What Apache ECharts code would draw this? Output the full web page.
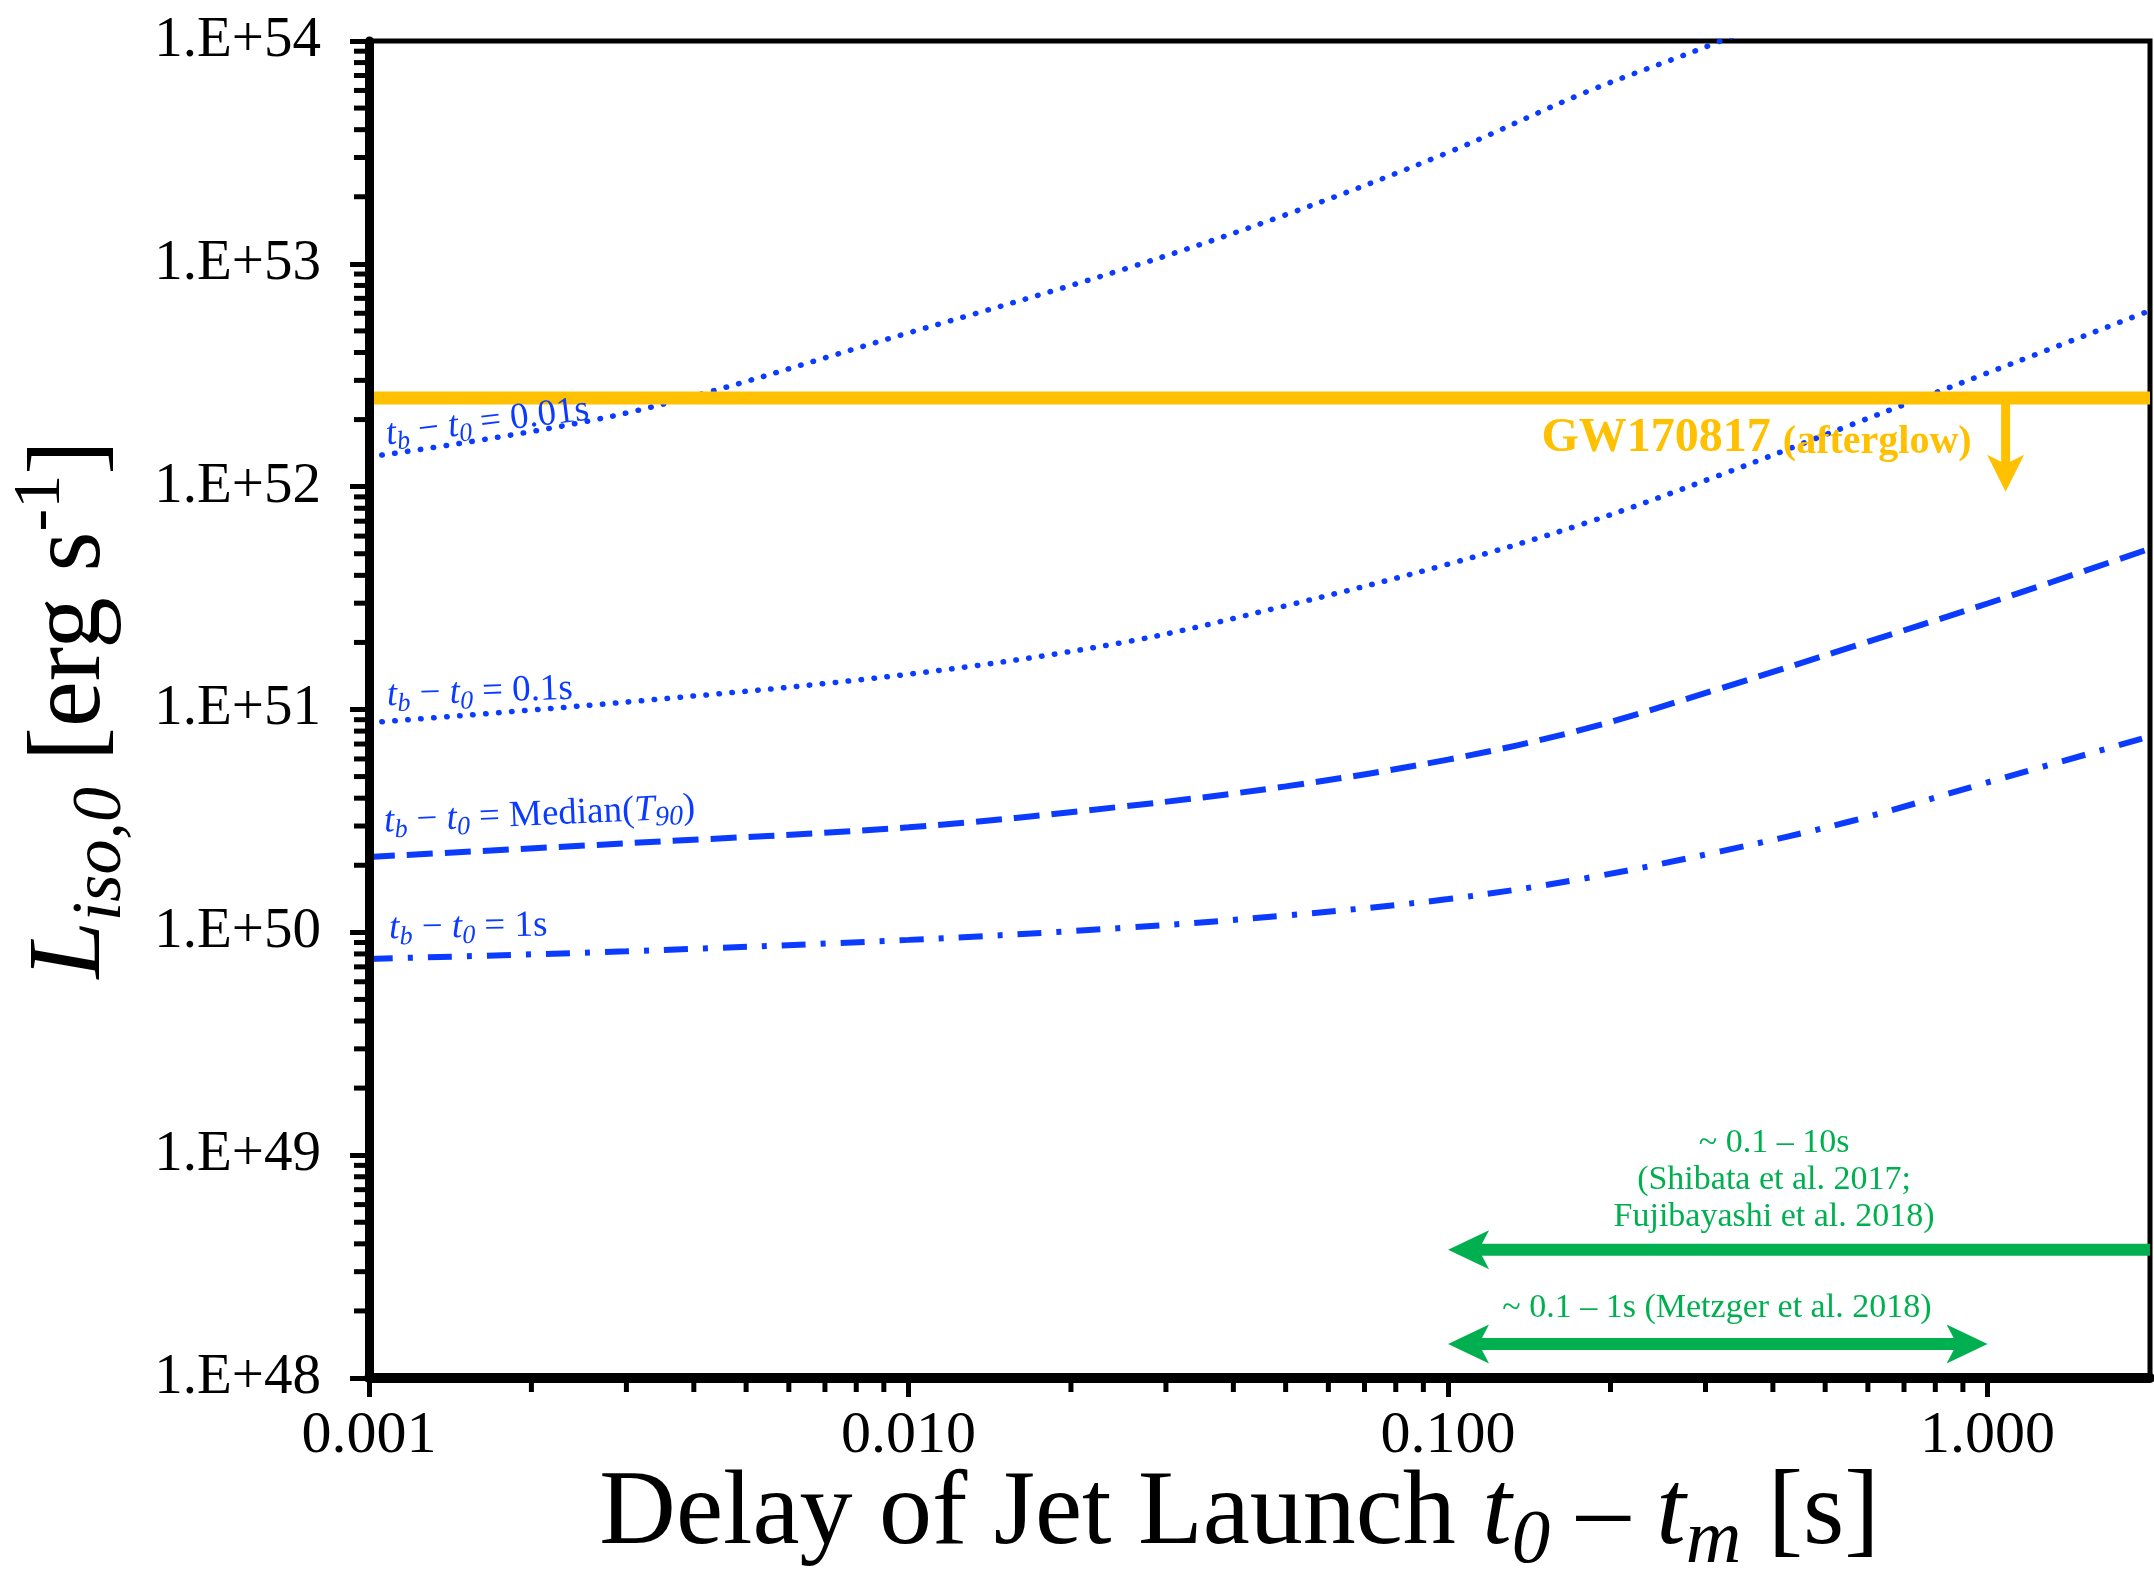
<!DOCTYPE html>
<html>
<head>
<meta charset="utf-8">
<title>Jet launch delay vs. required luminosity</title>
<script src="https://cdn.jsdelivr.net/npm/echarts@6/dist/echarts.min.js"></script>
<style>
  html, body { margin: 0; padding: 0; background: #ffffff; }
  #chart { width: 2154px; height: 1576px; }
</style>
</head>
<body>
<div id="chart"></div>
<script>
// ---- data ----------------------------------------------------------------
// delay of jet launch t0 - tm [s]
const delays = [0.001, 0.003, 0.01, 0.025, 0.05, 0.1, 0.18, 0.32, 0.56, 1.0, 2.0];
// required L_iso,0 [erg/s] for each breakout time tb - t0
const lumTb001s   = [1.36e52, 2.14e52, 4.9e52, 9.44e52, 1.66e53, 3.16e53, 5.89e53, 1.0e54, 1.78e54];
const lumTb01s    = [8.73e50, 1.08e51, 1.44e51, 2.0e51, 2.92e51, 4.49e51, 6.87e51, 1.13e52, 1.9e52, 3.24e52, 6.17e52];
const lumTbMedian = [2.18e50, 2.51e50, 2.96e50, 3.67e50, 4.52e50, 5.96e50, 8.2e50, 1.245e51, 1.91e51, 2.99e51, 5.27e51];
const lumTb1s     = [7.6e49, 8.22e49, 9.25e49, 1.047e50, 1.19e50, 1.41e50, 1.75e50, 2.31e50, 3.16e50, 4.71e50, 7.57e50];

// GW170817 afterglow upper limit and its pointer (x, from, to)
const gwLimit = 2.5e52;
const gwPointer = [1.08, 2.5e52, 9.5e51];

// expected delay ranges [s] and the levels they are drawn at
const shibataRange = [0.1, 10];
const metzgerRange = [0.1, 1];
const shibataLevel = 3.76e48;
const metzgerLevel = 1.42e48;

// axis ranges
const xRange = [0.001, 2];
const yRange = [1e48, 1e54];

// ---- styling ---------------------------------------------------------------
const FONT = '"Liberation Serif", "Times New Roman", Times, serif';
const BLUE = '#0B3BFF';
const GOLD = '#FFC000';
const GREEN = '#00B050';

const chart = echarts.init(document.getElementById('chart'));

const pairs = (xs, ys) => ys.map((y, i) => [xs[i], y]);

// sub-decade tick positions (2..9 of each decade)
function decadeSubTicks(fromExp, toExp, limit) {
  const out = [];
  for (let e = fromExp; e < toExp; e++) {
    for (let m = 2; m <= 9; m++) {
      const v = m * Math.pow(10, e);
      if (v < limit) out.push(v);
    }
  }
  return out;
}
const xMinorTicks = decadeSubTicks(-3, 1, xRange[1]);
const yMinorTicks = decadeSubTicks(48, 54, yRange[1]);

function minorTickSeries(values, dir, len, width) {
  return {
    type: 'custom', coordinateSystem: 'cartesian2d', silent: true, clip: false, z: 12,
    data: values.map(v => dir === 'y' ? [xRange[0], v] : [v, yRange[0]]),
    renderItem(params, api) {
      const p = api.coord([api.value(0), api.value(1)]);
      const shape = dir === 'y'
        ? { x1: p[0], y1: p[1], x2: p[0] - len, y2: p[1] }
        : { x1: p[0], y1: p[1], x2: p[0], y2: p[1] + len };
      return { type: 'line', shape, style: { stroke: '#000', lineWidth: width } };
    }
  };
}

// arrows: [x1, y1, x2, y2, headAtStart, headAtEnd]
function arrowSeries(segments, color, width, headLen, headWid) {
  return {
    type: 'custom', coordinateSystem: 'cartesian2d', silent: true, clip: true, z: 6,
    encode: { x: [0, 2], y: [1, 3] },
    data: segments,
    renderItem(params, api) {
      const a = api.coord([api.value(0), api.value(1)]);
      const b = api.coord([api.value(2), api.value(3)]);
      const dx = b[0] - a[0], dy = b[1] - a[1];
      const d = Math.hypot(dx, dy) || 1;
      const ux = dx / d, uy = dy / d, nx = -uy, ny = ux;
      const head = (t, s) => {
        const bx = -s * ux, by = -s * uy;
        return {
          type: 'polygon',
          shape: { points: [
            [t[0], t[1]],
            [t[0] + bx * headLen + nx * headWid / 2, t[1] + by * headLen + ny * headWid / 2],
            [t[0] + bx * headLen * 0.75, t[1] + by * headLen * 0.75],
            [t[0] + bx * headLen - nx * headWid / 2, t[1] + by * headLen - ny * headWid / 2]
          ] },
          style: { fill: color }
        };
      };
      const hs = api.value(4), he = api.value(5);
      const s0 = hs ? [a[0] + ux * headLen * 0.7, a[1] + uy * headLen * 0.7] : a;
      const s1 = he ? [b[0] - ux * headLen * 0.7, b[1] - uy * headLen * 0.7] : b;
      const children = [{
        type: 'line',
        shape: { x1: s0[0], y1: s0[1], x2: s1[0], y2: s1[1] },
        style: { stroke: color, lineWidth: width }
      }];
      if (hs) children.push(head(a, -1));
      if (he) children.push(head(b, 1));
      return { type: 'group', children };
    }
  };
}

function curve(name, values, lineStyle) {
  return {
    name, type: 'line', data: pairs(delays, values),
    symbol: 'none', showSymbol: false, smooth: 0.35, clip: true, z: 3,
    lineStyle: Object.assign({ color: BLUE }, lineStyle)
  };
}

const option = {
  backgroundColor: '#ffffff',
  animation: false,
  grid: {
    left: 369, right: 4, top: 41, bottom: 198,
    containLabel: false, outerBoundsMode: 'none',
    show: true, borderColor: '#000', borderWidth: 5, backgroundColor: 'transparent'
  },
  xAxis: {
    type: 'log', logBase: 10, min: xRange[0], max: xRange[1], z: 10,
    name: '{n|Delay of Jet Launch }{i|t}{s|0}{n| – }{i|t}{s|m}{n| [s]}',
    nameLocation: 'middle', nameGap: 72, nameMoveOverlap: false,
    nameTextStyle: {
      fontFamily: FONT, fontSize: 106, color: '#000', padding: [0, 40, 0, 0],
      rich: {
        n: { fontFamily: FONT, fontSize: 106, color: '#000', lineHeight: 130 },
        i: { fontFamily: FONT, fontSize: 106, fontStyle: 'italic', color: '#000', lineHeight: 130 },
        s: { fontFamily: FONT, fontSize: 77, fontStyle: 'italic', color: '#000', verticalAlign: 'bottom', lineHeight: 71 }
      }
    },
    axisLine: { onZero: false, lineStyle: { color: '#000', width: 10 } },
    axisTick: { inside: false, length: 19, lineStyle: { color: '#000', width: 5 } },
    axisLabel: {
      fontFamily: FONT, fontSize: 60, color: '#000', margin: 28,
      showMaxLabel: false,
      formatter: v => Number(v).toFixed(3)
    },
    splitLine: { show: false },
    minorTick: { show: false }
  },
  yAxis: {
    type: 'log', logBase: 10, min: yRange[0], max: yRange[1], z: 10,
    name: '{L|L}{s|iso,0}{n| [erg s}{p|-1}{n|]}',
    nameLocation: 'middle', nameGap: 232, nameMoveOverlap: false,
    nameTextStyle: {
      fontFamily: FONT, fontSize: 103, color: '#000',
      rich: {
        L: { fontFamily: FONT, fontSize: 103, fontStyle: 'italic', color: '#000', lineHeight: 130 },
        s: { fontFamily: FONT, fontSize: 70, fontStyle: 'italic', color: '#000', verticalAlign: 'bottom', lineHeight: 76 },
        n: { fontFamily: FONT, fontSize: 103, color: '#000', lineHeight: 130 },
        p: { fontFamily: FONT, fontSize: 68, color: '#000', verticalAlign: 'top', lineHeight: 105 }
      }
    },
    axisLine: { onZero: false, lineStyle: { color: '#000', width: 9 } },
    axisTick: { inside: false, length: 19, lineStyle: { color: '#000', width: 5 } },
    axisLabel: {
      fontFamily: FONT, fontSize: 57, color: '#000', margin: 48,
      formatter: v => '1.E+' + Math.round(Math.log10(v))
    },
    splitLine: { show: false },
    minorTick: { show: false }
  },
  series: [
    curve('tb-t0 = 0.01s', lumTb001s, { width: 5.5, type: [0.5, 12.5], cap: 'round' }),
    curve('tb-t0 = 0.1s', lumTb01s, { width: 5.5, type: [0.5, 12.5], cap: 'round' }),
    curve('tb-t0 = Median(T90)', lumTbMedian, { width: 6, type: [26, 12], cap: 'butt' }),
    curve('tb-t0 = 1s', lumTb1s, { width: 6, type: [24, 15, 5, 15], cap: 'butt' }),
    {
      name: 'GW170817 (afterglow)', type: 'line', symbol: 'none', z: 4,
      data: [[xRange[0], gwLimit], [xRange[1], gwLimit]],
      lineStyle: { color: GOLD, width: 13 }
    },
    arrowSeries([[gwPointer[0], gwPointer[1], gwPointer[0], gwPointer[2], 0, 1]], GOLD, 9, 37, 37),
    arrowSeries([
      [shibataRange[1], shibataLevel, shibataRange[0], shibataLevel, 0, 1],
      [metzgerRange[0], metzgerLevel, metzgerRange[1], metzgerLevel, 1, 1]
    ], GREEN, 12, 41, 39),
    minorTickSeries(yMinorTicks, 'y', 15, 5),
    minorTickSeries(xMinorTicks, 'x', 14, 5)
  ]
};

chart.setOption(option);

// ---- text annotations, anchored in data coordinates ------------------------
const toPx = p => chart.convertToPixel({ xAxisIndex: 0, yAxisIndex: 0 }, p);

const curveRich = {
  n: { fontFamily: FONT, fontSize: 37, fill: BLUE, color: BLUE, lineHeight: 44 },
  i: { fontFamily: FONT, fontSize: 37, fontStyle: 'italic', fill: BLUE, color: BLUE, lineHeight: 44 },
  s: { fontFamily: FONT, fontSize: 26, fontStyle: 'italic', fill: BLUE, color: BLUE, verticalAlign: 'bottom', lineHeight: 18 },
  t: { fontFamily: FONT, fontSize: 28, fontStyle: 'italic', fill: BLUE, color: BLUE, verticalAlign: 'bottom', lineHeight: 34 }
};
const tbLabel = rhs => '{i|t}{s|b}{n| − }{i|t}{s|0}{n| = ' + rhs + '}';

const notes = [
  { at: [0.001075, 1.71e52], rotate: 7, text: tbLabel('0.01s'), rich: curveRich, align: 'left' },
  { at: [0.00108, 1.156e51], rotate: 2, text: tbLabel('0.1s'), rich: curveRich, align: 'left' },
  { at: [0.001066, 3.13e50], rotate: 2.5,
    text: '{i|t}{s|b}{n| − }{i|t}{s|0}{n| = Median(}{i|T}{t|90}{n|)}', rich: curveRich, align: 'left' },
  { at: [0.00109, 1.04e50], rotate: 1, text: tbLabel('1s'), rich: curveRich, align: 'left' },
  { at: [0.149, 1.71e52], rotate: 0, text: '{a|GW170817 }{b|(afterglow)}', align: 'left',
    rich: {
      a: { fontFamily: FONT, fontSize: 48, fontWeight: 'bold', fill: GOLD, color: GOLD, verticalAlign: 'bottom', lineHeight: 56 },
      b: { fontFamily: FONT, fontSize: 40, fontWeight: 'bold', fill: GOLD, color: GOLD, verticalAlign: 'bottom', lineHeight: 50 }
    } },
  { at: [0.402, 7.76e48], rotate: 0, align: 'center',
    text: '~ 0.1 – 10s\n(Shibata et al. 2017;\nFujibayashi et al. 2018)',
    plain: { fontFamily: FONT, fontSize: 34, fill: GREEN, lineHeight: 37 } },
  { at: [0.315, 2.05e48], rotate: 0, align: 'center',
    text: '~ 0.1 – 1s (Metzger et al. 2018)',
    plain: { fontFamily: FONT, fontSize: 34, fill: GREEN, lineHeight: 37 } }
];

chart.setOption({
  graphic: notes.map(n => {
    const p = toPx(n.at);
    const style = Object.assign({
      text: n.text,
      align: n.align, textAlign: n.align,
      verticalAlign: 'middle', textVerticalAlign: 'middle'
    }, n.plain || {});
    if (n.rich) style.rich = n.rich;
    return {
      type: 'text', x: p[0], y: p[1], rotation: n.rotate * Math.PI / 180,
      z: 100, silent: true, style
    };
  })
});
</script>
</body>
</html>
